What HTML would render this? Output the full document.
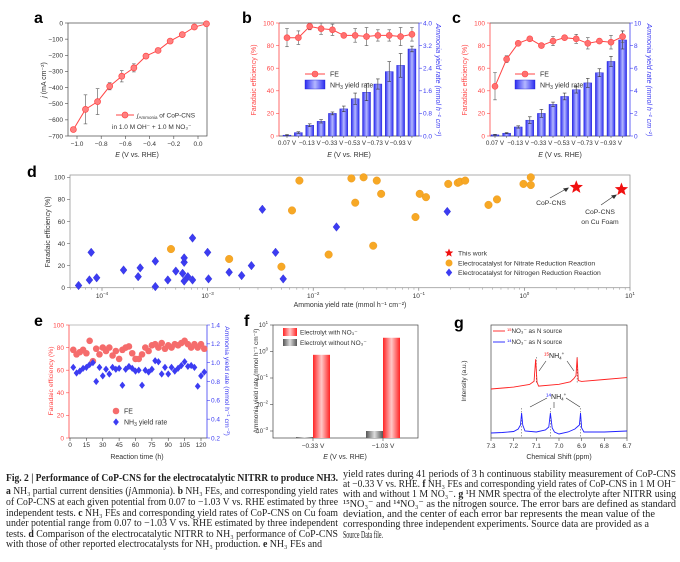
<!DOCTYPE html>
<html><head><meta charset="utf-8">
<style>
html,body{margin:0;padding:0;background:#fff;}
svg{display:block;}
text{font-family:"Liberation Sans",Arial,sans-serif;}
.cap{font-family:"Liberation Serif",serif;font-size:10.5px;fill:#222;}
.lt{font-size:16px;font-weight:bold;fill:#000;}
</style></head>
<body>
<svg id="fig" width="680" height="562" viewBox="0 0 680 562">
<defs>
<linearGradient id="gBlue" x1="0" x2="1" y1="0" y2="0"><stop offset="0" stop-color="#2a2af0"/><stop offset="0.5" stop-color="#b4b8ff"/><stop offset="1" stop-color="#2a2af0"/></linearGradient>
<linearGradient id="gRed" x1="0" x2="1" y1="0" y2="0"><stop offset="0" stop-color="#ff2424"/><stop offset="0.5" stop-color="#ffc8c8"/><stop offset="1" stop-color="#ff2424"/></linearGradient>
<linearGradient id="gGray" x1="0" x2="1" y1="0" y2="0"><stop offset="0" stop-color="#555"/><stop offset="0.5" stop-color="#ddd"/><stop offset="1" stop-color="#555"/></linearGradient>
</defs>
<text class="lt" x="34" y="23">a</text>
<text class="lt" x="242" y="23">b</text>
<text class="lt" x="452" y="23">c</text>
<text class="lt" x="27" y="177">d</text>
<text class="lt" x="34" y="326">e</text>
<text class="lt" x="244" y="326">f</text>
<text class="lt" x="454" y="328">g</text>

<g>
<text class="cap" x="6" y="481" textLength="332" lengthAdjust="spacingAndGlyphs" font-weight="bold">Fig. 2 | Performance of CoP-CNS for the electrocatalytic NITRR to produce NH3.</text>
<text class="cap" x="6" y="494" textLength="332" lengthAdjust="spacingAndGlyphs"><tspan font-weight="bold">a</tspan> NH₃ partial current densities (<tspan font-style="italic">j</tspan>Ammonia). <tspan font-weight="bold">b</tspan> NH₃ FEs, and corresponding yield rates</text>
<text class="cap" x="6" y="505" textLength="332" lengthAdjust="spacingAndGlyphs">of CoP-CNS at each given potential from 0.07 to −1.03 V vs. RHE estimated by three</text>
<text class="cap" x="6" y="516" textLength="332" lengthAdjust="spacingAndGlyphs">independent tests. <tspan font-weight="bold">c</tspan> NH₃ FEs and corresponding yield rates of CoP-CNS on Cu foam</text>
<text class="cap" x="6" y="526" textLength="332" lengthAdjust="spacingAndGlyphs">under potential range from 0.07 to −1.03 V vs. RHE estimated by three independent</text>
<text class="cap" x="6" y="537" textLength="332" lengthAdjust="spacingAndGlyphs">tests. <tspan font-weight="bold">d</tspan> Comparison of the electrocatalytic NITRR to NH₃ performance of CoP-CNS</text>
<text class="cap" x="6" y="547" textLength="316" lengthAdjust="spacingAndGlyphs">with those of other reported electrocatalysts for NH₃ production. <tspan font-weight="bold">e</tspan> NH₃ FEs and</text>
<text class="cap" x="343" y="477" textLength="333" lengthAdjust="spacingAndGlyphs">yield rates during 41 periods of 3 h continuous stability measurement of CoP-CNS</text>
<text class="cap" x="343" y="487" textLength="333" lengthAdjust="spacingAndGlyphs">at −0.33 V vs. RHE. <tspan font-weight="bold">f</tspan> NH₃ FEs and corresponding yield rates of CoP-CNS in 1 M OH⁻</text>
<text class="cap" x="343" y="497" textLength="333" lengthAdjust="spacingAndGlyphs">with and without 1 M NO₃⁻. <tspan font-weight="bold">g</tspan> ¹H NMR spectra of the electrolyte after NITRR using</text>
<text class="cap" x="343" y="507" textLength="333" lengthAdjust="spacingAndGlyphs">¹⁵NO₃⁻ and ¹⁴NO₃⁻ as the nitrogen source. The error bars are defined as standard</text>
<text class="cap" x="343" y="517" textLength="312" lengthAdjust="spacingAndGlyphs">deviation, and the center of each error bar represents the mean value of the</text>
<text class="cap" x="343" y="527" textLength="306" lengthAdjust="spacingAndGlyphs">corresponding three independent experiments. Source data are provided as a</text>
<text class="cap" x="343" y="538" textLength="40" lengthAdjust="spacingAndGlyphs">Source Data file.</text>
</g>
</svg>
<script>
// ---------- data ----------
const aPot=[0.07,-0.03,-0.13,-0.23,-0.33,-0.43,-0.53,-0.63,-0.73,-0.83,-0.93,-1.03];
const aJ=[-5,-25,-72,-112,-170,-205,-278,-330,-392,-487,-535,-660];
const aErr=[3,8,5,8,10,12,25,35,22,80,90,10];
const aXTicks=[-1.0,-0.8,-0.6,-0.4,-0.2,0.0];
const aYTicks=[0,-100,-200,-300,-400,-500,-600,-700];
const potLabels=['0.07 V','−0.13 V','−0.33 V','−0.53 V','−0.73 V','−0.93 V'];
const bFE=[87,87,97,95,94,89,89,88,89,89,88,90];
const bFEerr=[8,6,3,5,5,2,6,8,5,5,8,6];
const bYield=[0.03,0.12,0.38,0.52,0.80,0.96,1.32,1.55,1.84,2.28,2.50,3.08];
const bYerr=[0.02,0.03,0.05,0.06,0.05,0.1,0.2,0.3,0.18,0.35,0.42,0.1];
const bRightTicks=[0,0.8,1.6,2.4,3.2,4.0];
const cFE=[44,68,82,86,80,84,87,86,82,84,83,88];
const cFEerr=[12,3,2,1,2,4,2,4,5,2,6,5];
const cYield=[0.1,0.25,0.8,1.4,2.0,2.8,3.5,4.1,4.7,5.6,6.6,8.5];
const cYerr=[0.05,0.05,0.1,0.3,0.35,0.2,0.3,0.3,0.4,0.35,0.45,0.8];
const cRightTicks=[0,2,4,6,8,10];
const feTicks=[0,20,40,60,80,100];
const dNitrateX=[4.5e-4,1.6e-3,5.0e-3,6.3e-3,7.4e-3,1.4e-2,2.3e-2,2.5e-2,3.0e-2,3.7e-2,4.0e-2,4.4e-2,9.3e-2,0.102,0.117,0.19,0.234,0.245,0.275,0.457,0.55,0.98,1.15,1.15];
const dNitrateFE=[35,26,19,70,97,30,99,77,100,38,97,85,64,85,82,94,95,96,97,75,80,94,100,93];
const dNitrogenX=[6.0e-5,7.6e-5,7.9e-5,8.9e-5,1.6e-4,2.2e-4,2.3e-4,3.2e-4,3.2e-4,4.2e-4,5.0e-4,5.8e-4,6.0e-4,6.0e-4,6.0e-4,6.5e-4,7.2e-4,7.2e-4,1.0e-3,1.02e-3,1.6e-3,2.1e-3,2.6e-3,3.3e-3,4.4e-3,5.2e-3,1.66e-2,0.186];
const dNitrogenFE=[2,7,32,9,16,10,18,24,1,7,15,13,23,27,6,10,45,7,32,8,14,11,20,71,32,8,55,69];
const dStarX=[3.1,8.3];
const dStarFE=[91,89];
const dDecades=[-4,-3,-2,-1,0,1];
const eTime=[3,6,9,12,15,18,21,24,27,30,33,36,39,42,45,48,51,54,57,60,63,66,69,72,75,78,81,84,87,90,93,96,99,102,105,108,111,114,117,120,123];
const eFE=[78,74,76,78,75,86,68,79,74,80,77,80,73,77,70,78,80,81,75,70,70,74,80,77,82,83,80,84,79,82,80,83,82,84,86,83,80,83,80,83,79];
const eYield=[0.95,0.89,0.91,0.94,0.95,0.98,1.0,0.80,0.95,0.86,0.93,0.88,0.95,0.93,0.94,0.76,0.93,0.96,0.94,0.91,0.92,0.76,0.92,0.90,0.93,1.02,1.01,0.88,0.95,0.88,0.95,0.91,0.94,0.97,1.01,0.96,0.97,0.95,0.75,0.86,0.90];
const eXTicks=[0,15,30,45,60,75,90,105,120];
const eRightTicks=[0.2,0.4,0.6,0.8,1.0,1.2,1.4];
const fCats=['−0.33 V','−1.03 V'];
const fWith=[0.75,3.3];
const fWithout=[0.00059,0.001];
const fDecades=[1,0,-1,-2,-3];
const gRedPpm=[7.3,7.2,7.13,7.11,7.103,7.097,7.09,7.0,6.95,6.935,6.925,6.92,6.915,6.9,6.8,6.7];
const gRedInt=[0,1,3,6,28,5,1,2,4,7,10,28,5,4,5,6];
const gBluePpm=[7.3,7.25,7.2,7.18,7.17,7.165,7.16,7.15,7.1,7.06,7.045,7.038,7.03,7.02,7.0,6.96,6.93,6.91,6.905,6.9,6.89,6.8,6.7];
const gBlueInt=[0,0.5,1.5,4,8,20,8,2,1,3,6,20,5,1,-1,1,4,8,20,5,1,1,2];
const gXTicks=[7.3,7.2,7.1,7.0,6.9,6.8,6.7];

// ---------- helpers ----------
const NS='http://www.w3.org/2000/svg';
const svg=document.getElementById('fig');
function mk(tag,attrs,parent){const e=document.createElementNS(NS,tag);for(const k in attrs)e.setAttribute(k,attrs[k]);(parent||svg).appendChild(e);return e;}
function txt(x,y,s,attrs,parent){const t=mk('text',Object.assign({x:x,y:y,'font-size':6.5,fill:'#333'},attrs),parent);t.textContent=s;return t;}
function fmtMinus(v,d){const s=Math.abs(v).toFixed(d);return (v<0?'−':'')+s;}
function errbar(x,y1,y2,p,col){mk('line',{x1:x,y1:y1,x2:x,y2:y2,stroke:col||'#555','stroke-width':0.6},p);mk('line',{x1:x-1.8,y1:y1,x2:x+1.8,y2:y1,stroke:col||'#555','stroke-width':0.6},p);mk('line',{x1:x-1.8,y1:y2,x2:x+1.8,y2:y2,stroke:col||'#555','stroke-width':0.6},p);}
function starPts(cx,cy,ro,ri){const p=[];for(let k=0;k<10;k++){const r=k%2?ri:ro;const a=(-90+k*36)*Math.PI/180;p.push((cx+r*Math.cos(a)).toFixed(2)+','+(cy+r*Math.sin(a)).toFixed(2));}return p.join(' ');}
function diamond(cx,cy,h){return `${cx},${cy-h} ${cx+h*0.8},${cy} ${cx},${cy+h} ${cx-h*0.8},${cy}`;}
const RED='#ff4646', BLUE='#3c3cf2';

// ---------- panel a ----------
const ga=mk('g',{});


const aX=v=>77+(v+1)*121, aY=j=>23+(-j)/700*113;
mk('rect',{x:68,y:23,width:139,height:113,fill:'none',stroke:'#444','stroke-width':0.7},ga);
aXTicks.forEach(v=>{mk('line',{x1:aX(v),y1:136,x2:aX(v),y2:139,stroke:'#444','stroke-width':0.6},ga);const t=txt(aX(v),146,fmtMinus(v,1),{'text-anchor':'middle'},ga);

});
aYTicks.forEach(v=>{mk('line',{x1:65,y1:aY(v),x2:68,y2:aY(v),stroke:'#444','stroke-width':0.6},ga);const t=txt(63,aY(v)+2.3,fmtMinus(v,0),{'text-anchor':'end'},ga);

});
aPot.forEach((v,i)=>errbar(aX(v),aY(aJ[i]-aErr[i]),aY(aJ[i]+aErr[i]),ga));
const aLine=mk('polyline',{points:aPot.map((v,i)=>aX(v)+','+aY(aJ[i])).join(' '),fill:'none',stroke:RED,'stroke-width':1},ga);


aPot.forEach((v,i)=>{const c=mk('circle',{cx:aX(v),cy:aY(aJ[i]),r:3,fill:'#ff8080',stroke:RED,'stroke-width':0.7},ga);

});
mk('line',{x1:116,y1:115,x2:134,y2:115,stroke:RED,'stroke-width':1},ga);
mk('circle',{cx:125,cy:115,r:3,fill:'#ff8080',stroke:RED,'stroke-width':0.7},ga);
const al1=txt(137,117.5,'',{'font-size':6.5},ga);


al1.innerHTML='<tspan font-style="italic">j</tspan><tspan font-size="4.5" dy="1.5">Ammonia</tspan><tspan dy="-1.5"> of CoP-CNS</tspan>';
txt(112,129,'in 1.0 M OH⁻ + 1.0 M NO₃⁻',{'font-size':6.5},ga);
const ayt=txt(0,0,'',{'text-anchor':'middle',transform:'translate(46,80) rotate(-90)','font-size':7},ga);


ayt.innerHTML='<tspan font-style="italic">j</tspan> (mA cm⁻²)';
const axt=txt(137,157,'',{'text-anchor':'middle','font-size':7},ga);


axt.innerHTML='<tspan font-style="italic">E</tspan> (V vs. RHE)';

// ---------- panels b & c ----------
function fePanel(name,left,right,x0,step,fe,feErr,yv,yErr,yMax,rTicks,rDec,legX){
  const g=mk('g',{});
  
  
  const X=i=>x0+i*step, Yf=v=>136-v/100*113, Yy=v=>136-v/yMax*113;
  mk('line',{x1:left,y1:23,x2:right,y2:23,stroke:'#444','stroke-width':0.7},g);
  mk('line',{x1:left,y1:136,x2:right,y2:136,stroke:'#444','stroke-width':0.7},g);
  mk('line',{x1:left,y1:23,x2:left,y2:136,stroke:RED,'stroke-width':0.8},g);
  mk('line',{x1:right,y1:23,x2:right,y2:136,stroke:BLUE,'stroke-width':0.8},g);
  feTicks.forEach(v=>{mk('line',{x1:left-3,y1:Yf(v),x2:left,y2:Yf(v),stroke:RED,'stroke-width':0.6},g);const t=txt(left-5,Yf(v)+2.3,String(v),{'text-anchor':'end',fill:RED},g);
  
  });
  rTicks.forEach(v=>{mk('line',{x1:right,y1:Yy(v),x2:right+3,y2:Yy(v),stroke:BLUE,'stroke-width':0.6},g);const t=txt(right+4,Yy(v)+2.3,v.toFixed(rDec),{fill:BLUE},g);
  
  });
  yv.forEach((v,i)=>{const r=mk('rect',{x:X(i)-4,y:Yy(v),width:8,height:136-Yy(v),fill:'url(#gBlue)',stroke:'#2020d0','stroke-width':0.4},g);
  
  
  errbar(X(i),Yy(v+yErr[i]),Yy(Math.max(0,v-yErr[i])),g,'#333');});
  fe.forEach((v,i)=>errbar(X(i),Yf(Math.min(100,v+feErr[i])),Yf(v-feErr[i]),g,'#555'));
  const pl=mk('polyline',{points:fe.map((v,i)=>X(i)+','+Yf(v)).join(' '),fill:'none',stroke:RED,'stroke-width':1},g);
  
  
  fe.forEach((v,i)=>{const c=mk('circle',{cx:X(i),cy:Yf(v),r:3,fill:'#ff7070',stroke:RED,'stroke-width':0.6},g);
  
  });
  potLabels.forEach((s,k)=>{const t=txt(X(k*2),145,s,{'text-anchor':'middle','font-size':6.3},g);
  
  });
  fe.forEach((v,i)=>mk('line',{x1:X(i),y1:136,x2:X(i),y2:138,stroke:'#444','stroke-width':0.5},g));
  mk('line',{x1:legX,y1:74,x2:legX+20,y2:74,stroke:RED,'stroke-width':1},g);
  mk('circle',{cx:legX+10,cy:74,r:3,fill:'#ff7070',stroke:RED,'stroke-width':0.6},g);
  txt(legX+25,76.5,'FE',{'font-size':7},g);
  mk('rect',{x:legX,y:80,width:20,height:9,fill:'url(#gBlue)',stroke:'#2020d0','stroke-width':0.4},g);
  const lt=txt(legX+25,87.5,'',{'font-size':7},g);
  
  
  lt.innerHTML='NH<tspan font-size="5" dy="1.5">3</tspan><tspan dy="-1.5"> yield rate</tspan>';
  txt(0,0,'Faradaic efficiency (%)',{'text-anchor':'middle',transform:`translate(${left-23},80) rotate(-90)`,fill:RED,'font-size':7},g);
  txt(0,0,'Ammonia yield rate (mmol h⁻¹ cm⁻²)',{'text-anchor':'middle',transform:`translate(${right+17},80) rotate(90)`,fill:BLUE,'font-size':7,'font-style':'italic'},g);
  const xt=txt((left+right)/2,157,'',{'text-anchor':'middle','font-size':7},g);
  xt.innerHTML='<tspan font-style="italic">E</tspan> (V vs. RHE)';
}
fePanel('panel-b-fe-yield-chart',279,419,287,11.36,bFE,bFEerr,bYield,bYerr,4,bRightTicks,1,305);
fePanel('panel-c-cu-foam-chart',490,630,495,11.6,cFE,cFEerr,cYield,cYerr,10,cRightTicks,0,515);

// ---------- panel d ----------
const gd=mk('g',{});


const dBot=287.7, dTop=175;
const dX=v=>102+(Math.log10(v)+4)*105.6, dY=v=>dBot-v/100*110.4;
mk('rect',{x:70,y:dTop,width:560,height:dBot-dTop,fill:'none',stroke:'#999','stroke-width':0.8},gd);
dDecades.forEach(d=>{const x=dX(Math.pow(10,d));mk('line',{x1:x,y1:dBot,x2:x,y2:dBot+3,stroke:'#666','stroke-width':0.6},gd);
const t=txt(x,298,'',{'text-anchor':'middle','font-size':6.5},gd);


t.innerHTML='10<tspan font-size="4.5" dy="-3">'+(d<0?'−'+(-d):d)+'</tspan>';
for(let k=2;k<10;k++){const xm=dX(k*Math.pow(10,d-1));if(xm>70&&xm<630)mk('line',{x1:xm,y1:dBot,x2:xm,y2:dBot+2,stroke:'#888','stroke-width':0.5},gd);}});
feTicks.forEach(v=>{mk('line',{x1:67,y1:dY(v),x2:70,y2:dY(v),stroke:'#666','stroke-width':0.6},gd);txt(65,dY(v)+2.3,String(v),{'text-anchor':'end'},gd);});
dNitrogenX.forEach((v,i)=>{const p=mk('polygon',{points:diamond(dX(v),dY(dNitrogenFE[i]),4.3),fill:BLUE,stroke:'#2a2ad0','stroke-width':0.4},gd);

});
dNitrateX.forEach((v,i)=>{const c=mk('circle',{cx:dX(v),cy:dY(dNitrateFE[i]),r:3.8,fill:'#f7a825',stroke:'#e8961a','stroke-width':0.4},gd);

});
dStarX.forEach((v,i)=>{const s=mk('polygon',{points:starPts(dX(v),dY(dStarFE[i]),7,3),fill:'#f01010'},gd);

});
txt(551,205,'CoP-CNS',{'text-anchor':'middle','font-size':6.8},gd);
mk('line',{x1:550,y1:198,x2:566,y2:189,stroke:'#333','stroke-width':0.6},gd);
mk('polygon',{points:'569,187.5 563,188.5 566,192',fill:'#333'},gd);
txt(600,214,'CoP-CNS',{'text-anchor':'middle','font-size':6.8},gd);
txt(600,224,'on Cu Foam',{'text-anchor':'middle','font-size':6.8},gd);
mk('line',{x1:601,y1:205,x2:614,y2:196,stroke:'#333','stroke-width':0.6},gd);
mk('polygon',{points:'617,194.5 611,195.5 614,199',fill:'#333'},gd);
mk('polygon',{points:starPts(449,253,4.5,2),fill:'#f01010'},gd);
txt(458,255.5,'This work',{'font-size':6.8},gd);
mk('circle',{cx:449,cy:263,r:3.5,fill:'#f7a825'},gd);
txt(458,265.5,'Electrocatalyst for Nitrate Reduction Reaction',{'font-size':6.8},gd);
mk('polygon',{points:diamond(449,272.5,4),fill:BLUE},gd);
txt(458,275,'Electrocatalyst for Nitrogen Reduction Reaction',{'font-size':6.8},gd);
txt(0,0,'Faradaic efficiency (%)',{'text-anchor':'middle',transform:'translate(50,232) rotate(-90)','font-size':7},gd);
txt(350,307,'Ammonia yield rate (mmol h⁻¹ cm⁻²)',{'text-anchor':'middle','font-size':7},gd);

// ---------- panel e ----------
const ge=mk('g',{});


const eX=t=>70+t/120*131, eF=v=>438-v/100*113, eY=v=>438-(v-0.2)/1.2*113;
mk('line',{x1:69,y1:325,x2:207,y2:325,stroke:'#aaa','stroke-width':0.7},ge);
mk('line',{x1:69,y1:438,x2:207,y2:438,stroke:'#444','stroke-width':0.7},ge);
mk('line',{x1:69,y1:325,x2:69,y2:438,stroke:RED,'stroke-width':0.8},ge);
mk('line',{x1:207,y1:325,x2:207,y2:438,stroke:BLUE,'stroke-width':0.8},ge);
feTicks.forEach(v=>{mk('line',{x1:66,y1:eF(v),x2:69,y2:eF(v),stroke:RED,'stroke-width':0.6},ge);txt(64,eF(v)+2.3,String(v),{'text-anchor':'end',fill:RED},ge);});
eRightTicks.forEach(v=>{mk('line',{x1:207,y1:eY(v),x2:210,y2:eY(v),stroke:BLUE,'stroke-width':0.6},ge);txt(211,eY(v)+2.3,v.toFixed(1),{fill:BLUE},ge);});
eXTicks.forEach(v=>{mk('line',{x1:eX(v),y1:438,x2:eX(v),y2:441,stroke:'#444','stroke-width':0.6},ge);txt(eX(v),447,String(v),{'text-anchor':'middle'},ge);});
eTime.forEach((t,i)=>{const c=mk('circle',{cx:eX(t),cy:eF(eFE[i]),r:3.3,fill:'#f56c6c'},ge);


const p=mk('polygon',{points:diamond(eX(t),eY(eYield[i]),3.6),fill:BLUE},ge);

});
mk('circle',{cx:116,cy:411,r:3.3,fill:'#f56c6c'},ge);
txt(124,413.5,'FE',{'font-size':7},ge);
mk('polygon',{points:diamond(116,422,3.6),fill:BLUE},ge);
const el2=txt(124,424.5,'',{'font-size':7},ge);
el2.innerHTML='NH<tspan font-size="5" dy="1.5">3</tspan><tspan dy="-1.5"> yield rate</tspan>';
txt(0,0,'Faradaic efficiency (%)',{'text-anchor':'middle',transform:'translate(53,381) rotate(-90)',fill:RED,'font-size':6.8},ge);
txt(0,0,'Ammonia yield rate (mmol h⁻¹ cm⁻²)',{'text-anchor':'middle',transform:'translate(225,381) rotate(90)',fill:BLUE,'font-size':6.8},ge);
txt(137,459,'Reaction time (h)',{'text-anchor':'middle','font-size':7},ge);

// ---------- panel f ----------
const gf=mk('g',{});


const fY=v=>325+(1-Math.log10(v))*26.5;
const fCenters=[313,383];
mk('rect',{x:273,y:325,width:145,height:113,fill:'none',stroke:'#444','stroke-width':0.7},gf);
fDecades.forEach(d=>{const y=fY(Math.pow(10,d));mk('line',{x1:270,y1:y,x2:273,y2:y,stroke:'#444','stroke-width':0.6},gf);
const t=txt(268,y+2,'',{'text-anchor':'end','font-size':6},gf);
t.innerHTML='10<tspan font-size="4.3" dy="-3">'+(d<0?'−'+(-d):d)+'</tspan>';});
fCats.forEach((c,i)=>{const gc=fCenters[i];
const rg=mk('rect',{x:gc-17,y:fY(fWithout[i]),width:17,height:438-fY(fWithout[i]),fill:'url(#gGray)'},gf);


const rr=mk('rect',{x:gc,y:fY(fWith[i]),width:17,height:438-fY(fWith[i]),fill:'url(#gRed)'},gf);


mk('line',{x1:gc,y1:438,x2:gc,y2:441,stroke:'#444','stroke-width':0.6},gf);
txt(gc,448,c,{'text-anchor':'middle'},gf);});
mk('rect',{x:283,y:328,width:14,height:8,fill:'url(#gRed)'},gf);
txt(300,334.5,'Electrolyt with NO₃⁻',{'font-size':6.5},gf);
mk('rect',{x:283,y:339,width:14,height:7,fill:'url(#gGray)'},gf);
txt(300,345,'Electrolyt without NO₃⁻',{'font-size':6.5},gf);
txt(0,0,'Ammonia yield rate (mmol h⁻¹ cm⁻²)',{'text-anchor':'middle',transform:'translate(258,381) rotate(-90)','font-size':6.5},gf);
const fxt=txt(345,459,'',{'text-anchor':'middle','font-size':7},gf);
fxt.innerHTML='<tspan font-style="italic">E</tspan> (V vs. RHE)';

// ---------- panel g ----------
const gg=mk('g',{});


const gX=p=>491+(7.3-p)/0.6*136;
mk('rect',{x:491,y:325,width:136,height:113,fill:'none',stroke:'#444','stroke-width':0.7},gg);
gXTicks.forEach(p=>{mk('line',{x1:gX(p),y1:438,x2:gX(p),y2:441,stroke:'#444','stroke-width':0.6},gg);txt(gX(p),448,p.toFixed(1),{'text-anchor':'middle'},gg);});
[7.1,6.92].forEach(p=>mk('line',{x1:gX(p),y1:357,x2:gX(p),y2:384,stroke:'#444','stroke-width':0.5,'stroke-dasharray':'1.5,1.5'},gg));
[7.165,7.038,6.905].forEach(p=>mk('line',{x1:gX(p),y1:408,x2:gX(p),y2:438,stroke:'#444','stroke-width':0.5,'stroke-dasharray':'1.5,1.5'},gg));
const redSp=mk('polyline',{points:gRedPpm.map((p,i)=>gX(p)+','+(389-gRedInt[i]-(7.3-p)*9)).join(' '),fill:'none',stroke:'#ff2020','stroke-width':0.9},gg);


const blueSp=mk('polyline',{points:gBluePpm.map((p,i)=>gX(p)+','+(433-gBlueInt[i])).join(' '),fill:'none',stroke:'#2020ff','stroke-width':0.9},gg);


const l15=txt(544,358,'',{'font-size':7,fill:'#222'},gg);
l15.innerHTML='<tspan font-size="4.5" dy="-2.5" fill="#f00">15</tspan><tspan dy="2.5">NH</tspan><tspan font-size="4.5" dy="1.5">4</tspan><tspan font-size="4.5" dy="-4.5">+</tspan>';
const l14=txt(546,399,'',{'font-size':7,fill:'#222'},gg);
l14.innerHTML='<tspan font-size="4.5" dy="-2.5" fill="#00f">14</tspan><tspan dy="2.5">NH</tspan><tspan font-size="4.5" dy="1.5">4</tspan><tspan font-size="4.5" dy="-4.5">+</tspan>';
[[546,361,539,371],[567,361,574,371],[547,398,530,407],[554,402,554,408],[566,398,580,407]].forEach(a=>mk('line',{x1:a[0],y1:a[1],x2:a[2],y2:a[3],stroke:'#333','stroke-width':0.6},gg));
mk('line',{x1:493,y1:331,x2:505,y2:331,stroke:'#ff2020','stroke-width':0.9},gg);
const lg1=txt(507,333,'',{'font-size':6.3},gg);
lg1.innerHTML='<tspan font-size="4" dy="-2" fill="#f00">15</tspan><tspan dy="2">NO₃⁻ as N source</tspan>';
mk('line',{x1:493,y1:342,x2:505,y2:342,stroke:'#2020ff','stroke-width':0.9},gg);
const lg2=txt(507,344,'',{'font-size':6.3},gg);
lg2.innerHTML='<tspan font-size="4" dy="-2" fill="#00f">14</tspan><tspan dy="2">NO₃⁻ as N source</tspan>';
txt(0,0,'Intensity (a.u.)',{'text-anchor':'middle',transform:'translate(466,381) rotate(-90)','font-size':6.5},gg);
txt(559,459,'Chemical Shift (ppm)',{'text-anchor':'middle','font-size':7},gg);
</script>
</body></html>
